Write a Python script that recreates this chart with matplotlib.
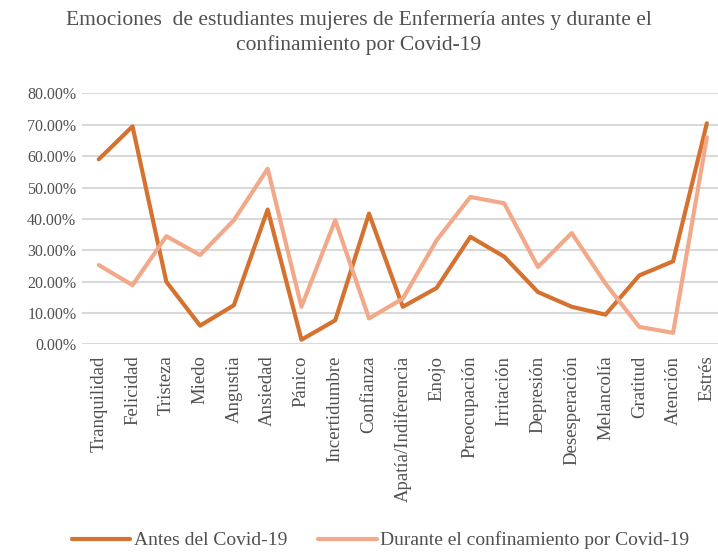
import matplotlib
matplotlib.use("Agg")
import matplotlib.pyplot as plt
from matplotlib.ticker import PercentFormatter

emociones = ["Tranquilidad", "Felicidad", "Tristeza", "Miedo", "Angustia", "Ansiedad",
             "Pánico", "Incertidumbre", "Confianza", "Apatía/Indiferencia", "Enojo",
             "Preocupación", "Irritación", "Depresión", "Desesperación", "Melancolía",
             "Gratitud", "Atención", "Estrés"]
antes = [0.59, 0.695, 0.20, 0.06, 0.125, 0.43, 0.015, 0.077, 0.417, 0.12, 0.18,
         0.343, 0.28, 0.167, 0.12, 0.095, 0.22, 0.265, 0.705]
durante = [0.253, 0.189, 0.345, 0.285, 0.396, 0.56, 0.12, 0.396, 0.083, 0.146, 0.332,
           0.47, 0.45, 0.247, 0.355, 0.194, 0.056, 0.037, 0.66]

plt.rcParams['font.family'] = ['Liberation Serif', 'DejaVu Serif']
txt = "#505050"

fig = plt.figure(figsize=(7.18, 5.52), dpi=100)
ax = fig.add_axes([0.114, 0.376, 0.894, 0.4547])

x = list(range(len(emociones)))
ax.plot(x, antes, color="#D57230", lw=3, label="Antes del Covid-19", solid_capstyle="round")
ax.plot(x, durante, color="#F2A98A", lw=3, label="Durante el confinamiento por Covid-19",
        solid_capstyle="round")

ax.set_xlim(-0.5, len(emociones) - 0.5)
ax.set_ylim(0, 0.8)
ax.set_yticks([i / 10 for i in range(9)])
ax.yaxis.set_major_formatter(PercentFormatter(1.0, decimals=2))
ax.set_xticks(x)
ax.set_xticklabels(emociones, rotation=90, fontsize=13.5, color=txt)
ax.tick_params(axis="y", labelsize=11.5, labelcolor=txt, length=0, pad=4)
ax.tick_params(axis="x", length=0, pad=8)
ax.grid(axis="y", color="#D9D9D9", lw=1.5)
ax.set_axisbelow(True)
for s in ax.spines.values():
    s.set_visible(False)

fig.text(0.5, 0.982, "Emociones  de estudiantes mujeres de Enfermería antes y durante el\nconfinamiento por Covid-19",
         ha="center", va="top", fontsize=15.5, color=txt, linespacing=1.35)

fig.legend(loc="lower center", bbox_to_anchor=(0.53, -0.027), ncol=2, frameon=False,
           fontsize=14, handlelength=3.0, columnspacing=1.6, handletextpad=0.2,
           labelcolor=txt)

fig.savefig("out.png", dpi=100)
